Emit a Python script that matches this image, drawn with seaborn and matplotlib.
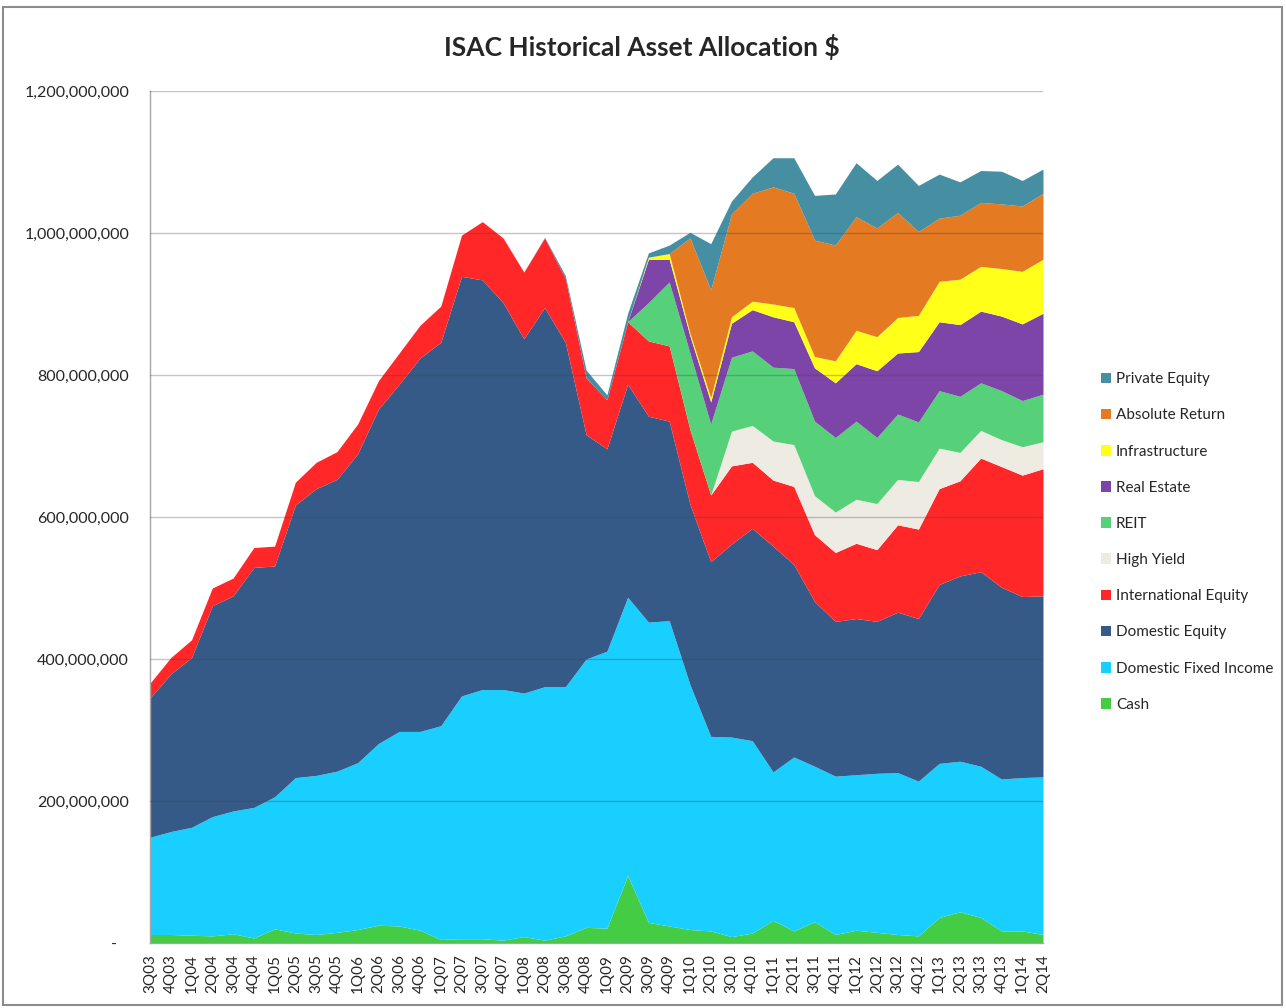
import numpy as np
import matplotlib.pyplot as plt
import seaborn as sns
from matplotlib.patches import Rectangle
from matplotlib.ticker import FuncFormatter

# quarters on the x axis
quarters = ['3Q03', '4Q03', '1Q04', '2Q04', '3Q04', '4Q04', '1Q05', '2Q05', '3Q05', '4Q05',
            '1Q06', '2Q06', '3Q06', '4Q06', '1Q07', '2Q07', '3Q07', '4Q07', '1Q08', '2Q08',
            '3Q08', '4Q08', '1Q09', '2Q09', '3Q09', '4Q09', '1Q10', '2Q10', '3Q10', '4Q10',
            '1Q11', '2Q11', '3Q11', '4Q11', '1Q12', '2Q12', '3Q12', '4Q12', '1Q13', '2Q13',
            '3Q13', '4Q13', '1Q14', '2Q14']

# asset values in $ millions
cash = [12, 12, 11, 10, 13, 7, 20, 14, 12, 15, 19, 25, 24, 18, 5, 6, 6, 4, 9, 4,
        10, 22, 21, 95, 29, 24, 19, 17, 9, 14, 32, 17, 30, 12, 18, 15, 12, 10, 36, 44,
        36, 17, 17, 12]
dom_fixed = [137, 145, 152, 168, 173, 184, 186, 219, 224, 227, 235, 256, 274, 280, 301, 342, 351, 353, 343, 357,
             351, 378, 390, 392, 423, 430, 345, 274, 281, 271, 209, 245, 219, 223, 219, 224, 228, 218, 217, 212,
             213, 214, 216, 222]
dom_equity = [196, 222, 239, 297, 303, 338, 325, 384, 404, 411, 435, 471, 489, 526, 540, 591, 577, 545, 499, 534,
              485, 316, 285, 300, 290, 281, 254, 246, 272, 299, 318, 271, 232, 218, 220, 214, 226, 229, 252, 261,
              274, 270, 255, 255]
intl_equity = [21, 23, 25, 25, 25, 28, 28, 32, 37, 39, 42, 40, 44, 46, 51, 58, 82, 91, 94, 98,
               90, 80, 69, 88, 106, 106, 105, 94, 110, 93, 93, 110, 94, 97, 106, 101, 123, 126, 135, 134,
               160, 170, 171, 179]
high_yield = [0, 0, 0, 0, 0, 0, 0, 0, 0, 0, 0, 0, 0, 0, 0, 0, 0, 0, 0, 0,
              0, 0, 0, 0, 0, 0, 0, 0, 49, 52, 55, 59, 55, 57, 62, 65, 64, 67, 57, 40,
              39, 38, 40, 38]
reit = [0, 0, 0, 0, 0, 0, 0, 0, 0, 0, 0, 0, 0, 0, 0, 0, 0, 0, 0, 0,
        0, 0, 0, 0, 54, 90, 108, 100, 104, 105, 104, 107, 105, 105, 110, 93, 92, 84, 81, 79,
        67, 69, 65, 67]
real_estate = [0, 0, 0, 0, 0, 0, 0, 0, 0, 0, 0, 0, 0, 0, 0, 0, 0, 0, 0, 0,
               0, 0, 0, 0, 61, 32, 24, 31, 48, 58, 71, 66, 75, 77, 81, 94, 86, 99, 97, 101,
               101, 105, 108, 114]
infrastructure = [0, 0, 0, 0, 0, 0, 0, 0, 0, 0, 0, 0, 0, 0, 0, 0, 0, 0, 0, 0,
                  0, 0, 0, 0, 3, 8, 4, 6, 9, 12, 18, 20, 16, 31, 47, 48, 50, 51, 57, 64,
                  63, 67, 74, 76]
absolute_return = [0, 0, 0, 0, 0, 0, 0, 0, 0, 0, 0, 0, 0, 0, 0, 0, 0, 0, 0, 0,
                   0, 0, 0, 0, 0, 0, 134, 152, 145, 152, 165, 161, 164, 163, 160, 153, 148, 118, 89, 90,
                   90, 91, 92, 93]
private_equity = [0, 0, 0, 0, 0, 0, 0, 0, 0, 0, 0, 0, 0, 0, 0, 0, 0, 0, 0, 1,
                  4, 11, 7, 12, 6, 12, 8, 65, 18, 23, 41, 50, 63, 72, 76, 67, 68, 65, 62, 47,
                  45, 46, 36, 34]

labels = ['Cash', 'Domestic Fixed Income', 'Domestic Equity', 'International Equity', 'High Yield',
          'REIT', 'Real Estate', 'Infrastructure', 'Absolute Return', 'Private Equity']
series = [cash, dom_fixed, dom_equity, intl_equity, high_yield,
          reit, real_estate, infrastructure, absolute_return, private_equity]
colors = ['#45CC45', '#19CFFF', '#355A87', '#FF2727', '#EEEBE3',
          '#56D17A', '#7D45A8', '#FFFF19', '#E47A22', '#468FA2']

sns.set_style('white')
plt.rcParams['font.family'] = ['Lato', 'DejaVu Sans']

fig = plt.figure(figsize=(12.86, 10.08), dpi=100)
ax = fig.add_axes([150 / 1286, 1 - 943 / 1008, (1043 - 150) / 1286, (943 - 91) / 1008])

x = np.arange(len(quarters))
vals = [np.array(s) * 1e6 for s in series]
ax.stackplot(x, *vals, colors=colors, labels=labels, linewidth=0)

ax.set_xlim(0, len(quarters) - 1)
ax.set_ylim(0, 1.2e9)
ax.set_yticks(np.arange(0, 1.2e9 + 1, 2e8))
ax.yaxis.set_major_formatter(FuncFormatter(lambda v, p: '-   ' if v == 0 else f'{v:,.0f}'))
ax.set_xticks(x)
ax.set_xticklabels(quarters, rotation=90)

ax.set_axisbelow(False)
ax.yaxis.grid(True, color='#404040', alpha=0.3, lw=1)
ax.xaxis.grid(False)

for s in ['top', 'right']:
    ax.spines[s].set_visible(False)
for s in ['left', 'bottom']:
    ax.spines[s].set_color('#A6A6A6')
    ax.spines[s].set_linewidth(1)

ax.tick_params(axis='y', length=5, color='#A6A6A6', pad=10, labelsize=11.5, labelcolor='#262626')
ax.tick_params(axis='x', length=5, color='#A6A6A6', pad=3, labelsize=11, labelcolor='#262626')

fig.text(0.499, 1 - 47 / 1008, 'ISAC Historical Asset Allocation $',
         ha='center', va='center', fontsize=19, fontweight='bold')

handles, labs = ax.get_legend_handles_labels()
fig.legend(handles[::-1], labs[::-1], loc='center left',
           bbox_to_anchor=(1087 / 1286, 1 - 542 / 1008), frameon=False,
           fontsize=11, handlelength=0.7, handleheight=0.7, handletextpad=0.3,
           labelspacing=1.45)

# outer chart frame
fig.patches.append(Rectangle((3 / 1286, 3 / 1008), 1279 / 1286, 998 / 1008,
                             transform=fig.transFigure, fill=False,
                             edgecolor='#8C8C8C', lw=1.5))

fig.savefig('out.png', dpi=100)
